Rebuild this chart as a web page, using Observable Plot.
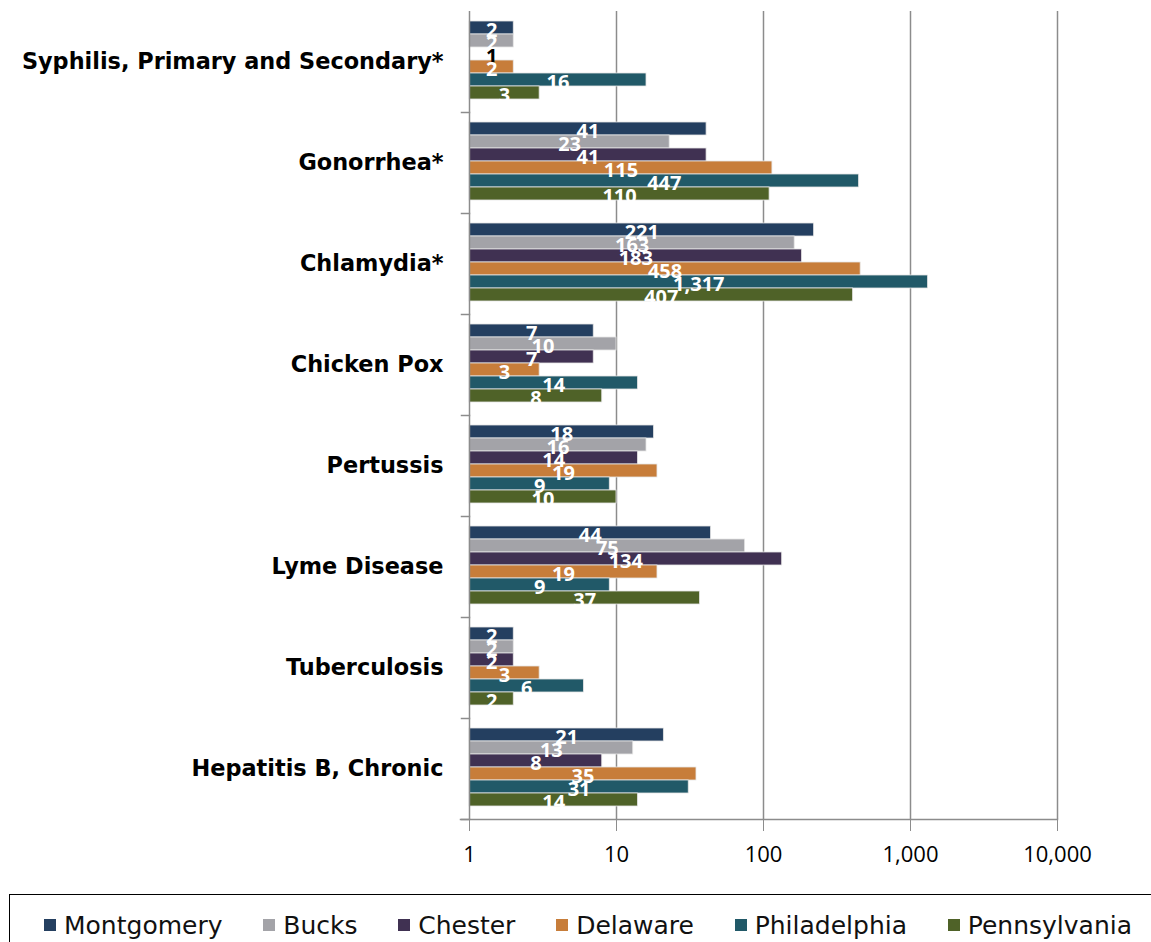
<!DOCTYPE html>
<html><head><meta charset="utf-8">
<script src="https://cdn.jsdelivr.net/npm/d3@7"></script>
<script src="https://cdn.jsdelivr.net/npm/@observablehq/plot@0.6"></script>
<style>
body{margin:0;background:#fff;font-family:"Open Sans",sans-serif;}
#chart{position:absolute;left:0;top:0;}
#legend{position:absolute;left:9px;top:894px;width:1160px;height:62px;border:1.5px solid #000;box-sizing:border-box;display:flex;align-items:center;justify-content:space-between;padding:0 36px 0 34px;font-family:"DejaVu Sans",sans-serif;font-size:25px;color:#111;}
.item{display:flex;align-items:center;}
.sw{width:12px;height:12px;margin-right:8px;}
</style></head><body>
<div id="chart"></div><div id="legend"></div>
<script>
const categories = ["Syphilis, Primary and Secondary*","Gonorrhea*","Chlamydia*","Chicken Pox","Pertussis","Lyme Disease","Tuberculosis","Hepatitis B, Chronic"];
const seriesNames = ["Montgomery","Bucks","Chester","Delaware","Philadelphia","Pennsylvania"];
const seriesColors = ["#243f60","#a3a3a8","#403152","#c77d3a","#215968","#4f6228"];
const montgomery   = [2, 41, 221, 7, 18, 44, 2, 21];
const bucks        = [2, 23, 163, 10, 16, 75, 2, 13];
const chester      = [1, 41, 183, 7, 14, 134, 2, 8];
const delaware     = [2, 115, 458, 3, 19, 19, 3, 35];
const philadelphia = [16, 447, 1317, 14, 9, 9, 6, 31];
const pennsylvania = [3, 110, 407, 8, 10, 37, 2, 14];
const xTicks = [1, 10, 100, 1000, 10000];

const seriesValues = [montgomery, bucks, chester, delaware, philadelphia, pennsylvania];
const data = categories.flatMap((c, i) => seriesNames.map((s, j) => ({category: c, series: s, value: seriesValues[j][i]})));

const W = 1151;
const plot = Plot.plot({
  width: W,
  height: 880,
  marginLeft: 469,
  marginRight: 94,
  marginTop: 10,
  marginBottom: 60,
  style: {fontFamily: "Open Sans, sans-serif", background: "white"},
  x: {type: "log", domain: [1, 10000], axis: null},
  y: {domain: seriesNames, paddingInner: 0, paddingOuter: 0.8, align: 0.42, axis: null},
  fy: {domain: categories, padding: 0, axis: null},
  color: {domain: seriesNames, range: seriesColors},
  marks: [
    Plot.ruleX([10, 100, 1000, 10000], {stroke: "#8c8c8c", strokeWidth: 1.5}),
    Plot.barX(data, {x1: 1, x2: "value", y: "series", fy: "category", fill: "series", stroke: "#e6e6e6", strokeWidth: 0.8}),
    Plot.ruleX([1], {stroke: "#8c8c8c", strokeWidth: 1.5}),
    Plot.frame({anchor: "bottom", stroke: "#8c8c8c", strokeWidth: 1.5, insetLeft: -8, insetRight: W - 469 - 94}),
    Plot.frame({anchor: "bottom", facetAnchor: "bottom", stroke: "#8c8c8c", strokeWidth: 1.5, insetLeft: -9}),
    Plot.text(data, {
      x: d => Math.sqrt(Math.max(d.value, 2)), y: "series", fy: "category",
      text: d => d3.format(",")(d.value),
      fill: d => d.value <= 1 ? "black" : "white",
      fontSize: 20, fontWeight: "bold", dy: 3
    }),
    Plot.text(categories, {fy: d => d, frameAnchor: "left", textAnchor: "end", dx: -26, fontSize: 22.4, fontWeight: "bold", fill: "black", fontFamily: "DejaVu Sans, sans-serif"}),
    Plot.axisX(xTicks, {anchor: "bottom", label: null, tickSize: 12, tickPadding: 15, stroke: "#8c8c8c", fill: "black", fontSize: 22, tickFormat: d3.format(",")})
  ]
});
document.getElementById("chart").append(plot);

const legend = d3.select("#legend");
seriesNames.forEach((s, j) => {
  const it = legend.append("div").attr("class", "item");
  it.append("div").attr("class", "sw").style("background", seriesColors[j]);
  it.append("span").text(s);
});
</script>
</body></html>
